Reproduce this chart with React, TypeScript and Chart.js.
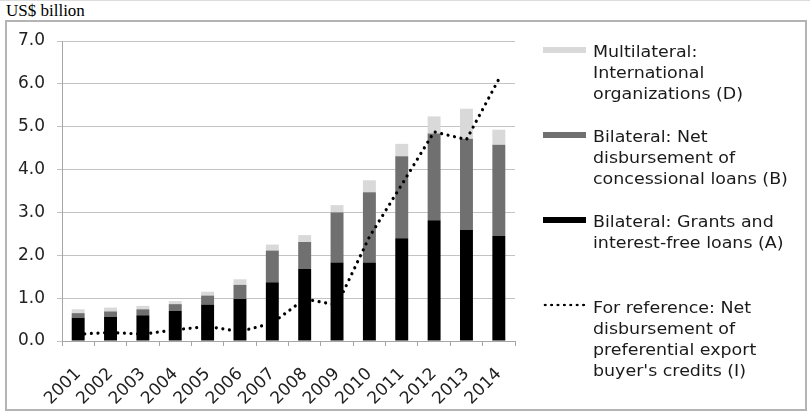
import React, { useEffect, useRef } from 'react';
import { Chart, registerables } from 'chart.js';

Chart.register(...registerables);

// ---- data (US$ billion) ----
const years = ['2001', '2002', '2003', '2004', '2005', '2006', '2007', '2008', '2009', '2010', '2011', '2012', '2013', '2014'];
const grantsA = [0.54, 0.56, 0.60, 0.70, 0.85, 0.98, 1.37, 1.68, 1.83, 1.83, 2.40, 2.82, 2.59, 2.45];
const concessionalB = [0.11, 0.13, 0.14, 0.16, 0.21, 0.33, 0.74, 0.63, 1.17, 1.64, 1.91, 2.02, 2.13, 2.13];
const multilateralD = [0.09, 0.09, 0.08, 0.07, 0.09, 0.13, 0.14, 0.16, 0.17, 0.28, 0.29, 0.40, 0.70, 0.35];
const exportCreditsI = [0.16, 0.20, 0.16, 0.26, 0.34, 0.22, 0.42, 0.98, 0.84, 2.43, 3.65, 4.88, 4.70, 6.11];
const yTickValues = [0, 1, 2, 3, 4, 5, 6, 7];

const unitLabel = 'US$ billion';
const labelD = ['Multilateral:', 'International', 'organizations (D)'];
const labelB = ['Bilateral: Net', 'disbursement of', 'concessional loans (B)'];
const labelA = ['Bilateral: Grants and', 'interest-free loans (A)'];
const labelI = ['For reference: Net', 'disbursement of', 'preferential export', "buyer's credits (I)"];

const COLOR_A = '#000000';
const COLOR_B = '#707070';
const COLOR_D = '#d9d9d9';

const tickFont = { family: "'DejaVu Sans', Verdana, sans-serif", size: 17 };

function LegendItem(props: { top: number; lines: string[]; kind: 'box' | 'dots'; color?: string }) {
  const { top, lines, kind, color } = props;
  return (
    <div style={{ position: 'absolute', left: 0, top, width: 300, height: lines.length * 21 }}>
      {kind === 'box' ? (
        <div style={{ position: 'absolute', left: 543, top: 6, width: 43, height: 6, background: color }} />
      ) : (
        <div
          style={{
            position: 'absolute',
            left: 542,
            top: 6,
            width: 45,
            height: 4,
            backgroundImage: 'radial-gradient(circle, #000 1.1px, rgba(0,0,0,0) 1.6px)',
            backgroundSize: '6.4px 4px',
            backgroundRepeat: 'repeat-x',
          }}
        />
      )}
      <div
        style={{
          position: 'absolute',
          left: 593,
          top: 0,
          fontFamily: "'DejaVu Sans', Verdana, sans-serif",
          fontSize: 16,
          lineHeight: '21px',
          color: '#1a1a1a',
          whiteSpace: 'nowrap',
          transform: 'scaleX(1.09)',
          transformOrigin: 'left top',
        }}
      >
        {lines.map((l, i) => (
          <div key={i}>{l}</div>
        ))}
      </div>
    </div>
  );
}

export default function App() {
  const canvasRef = useRef<HTMLCanvasElement>(null);

  useEffect(() => {
    if (!canvasRef.current) return;
    const chart = new Chart(canvasRef.current, {
      type: 'bar',
      data: {
        labels: years,
        datasets: [
          {
            type: 'line',
            label: labelI.join(' '),
            data: exportCreditsI,
            borderColor: '#000',
            borderWidth: 3.2,
            borderDash: [0.01, 6.6],
            borderCapStyle: 'round',
            pointRadius: 0,
            fill: false,
            tension: 0,
            order: 0,
          } as any,
          {
            label: labelA.join(' '),
            data: grantsA,
            backgroundColor: COLOR_A,
            stack: 'aid',
            order: 1,
          },
          {
            label: labelB.join(' '),
            data: concessionalB,
            backgroundColor: COLOR_B,
            stack: 'aid',
            order: 1,
          },
          {
            label: labelD.join(' '),
            data: multilateralD,
            backgroundColor: COLOR_D,
            stack: 'aid',
            order: 1,
          },
        ],
      },
      options: {
        responsive: false,
        animation: false,
        devicePixelRatio: 1,
        layout: { padding: { left: 0, top: 41, right: 295, bottom: 10 } },
        plugins: { legend: { display: false }, tooltip: { enabled: false }, title: { display: false } },
        datasets: { bar: { barPercentage: 0.4, categoryPercentage: 1 } },
        scales: {
          x: {
            stacked: true,
            offset: true,
            grid: {
              display: true,
              drawOnChartArea: false,
              drawTicks: true,
              tickLength: 5,
              color: '#a6a6a6',
              offset: true,
            },
            border: { display: true, color: '#a6a6a6', width: 1 },
            ticks: {
              font: tickFont,
              color: '#222',
              maxRotation: 45,
              minRotation: 45,
              autoSkip: false,
              padding: 18,
            },
            afterFit: (s: any) => {
              s.height = 63;
            },
          },
          y: {
            stacked: true,
            min: 0,
            max: 7,
            afterBuildTicks: (s: any) => {
              s.ticks = yTickValues.map((v) => ({ value: v }));
            },
            ticks: {
              font: tickFont,
              color: '#222',
              padding: 12,
              callback: (v: any) => Number(v).toFixed(1),
            },
            grid: { color: '#c3c3c3', tickLength: 5, lineWidth: 1 },
            border: { display: true, color: '#a6a6a6', width: 1 },
            afterFit: (s: any) => {
              s.width = 62;
            },
          },
        },
      } as any,
    });
    return () => chart.destroy();
  }, []);

  return (
    <div style={{ position: 'absolute', left: 0, top: 0, width: 810, height: 414, background: '#fff', overflow: 'hidden' }}>
      <div style={{ position: 'absolute', left: 0, top: 0, width: 810, height: 1, background: '#dcdcdc' }} />
      <div
        style={{
          position: 'absolute',
          left: 6,
          top: 2,
          fontFamily: "'Liberation Serif', 'Times New Roman', serif",
          fontSize: 17,
          lineHeight: '17px',
          color: '#000',
          whiteSpace: 'nowrap',
        }}
      >
        {unitLabel}
      </div>
      <div
        style={{
          position: 'absolute',
          left: 5,
          top: 20,
          width: 802,
          height: 391,
          boxSizing: 'border-box',
          border: '2px solid #b4b4b4',
        }}
      />
      <canvas ref={canvasRef} width={810} height={414} style={{ position: 'absolute', left: 0, top: 0 }} />
      <LegendItem top={41} lines={labelD} kind="box" color={COLOR_D} />
      <LegendItem top={126} lines={labelB} kind="box" color={COLOR_B} />
      <LegendItem top={211} lines={labelA} kind="box" color={COLOR_A} />
      <LegendItem top={297} lines={labelI} kind="dots" />
    </div>
  );
}
